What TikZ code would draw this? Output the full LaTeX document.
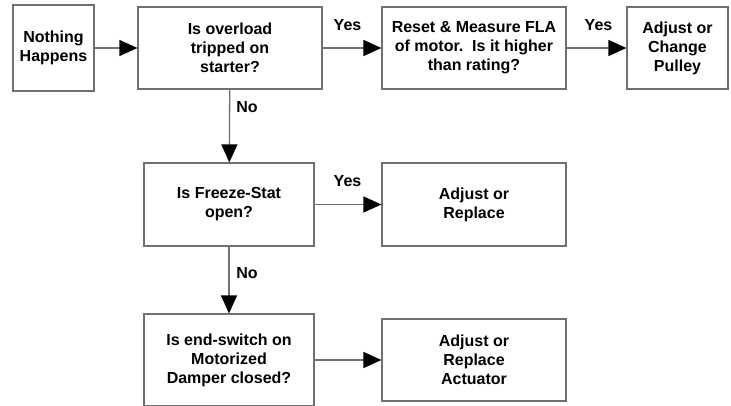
\documentclass[tikz,border=0pt]{standalone}
\usepackage{fontspec}
\setmainfont{Liberation Sans}
\usetikzlibrary{arrows.meta}
\definecolor{linegray}{HTML}{707070}
\begin{document}
\begin{tikzpicture}[x=1pt,y=-1pt,
  box/.style={draw=linegray,line width=1.2pt,fill=white,inner sep=0pt,align=center,
    font=\fontsize{16}{19}\selectfont\bfseries},
  conn/.style={draw=linegray,line width=1.3pt,-{Triangle[length=18pt,width=16pt,color=black]}},
  lbl/.style={font=\fontsize{16}{19}\selectfont\bfseries,inner sep=0pt}]
\clip (0,0) rectangle (731,405);
\fill[white] (0,0) rectangle (731,405);
\node[box,minimum width=81pt,minimum height=86pt] (nh) at (53.5,48) {Nothing\\Happens};
\node[box,minimum width=184pt,minimum height=82pt] (ov) at (230,48) {Is overload\\tripped on\\starter?};
\node[box,minimum width=184pt,minimum height=82pt] (rs) at (474,48) {Reset \& Measure FLA\\of motor.\ \ Is it higher\\than rating?};
\node[box,minimum width=101pt,minimum height=82pt] (pu) at (677.5,48) {Adjust or\\Change\\Pulley};
\node[box,minimum width=170pt,minimum height=83pt] (fs) at (229,204.5) {Is Freeze-Stat\\open?};
\node[box,minimum width=184pt,minimum height=83pt] (ar) at (474,204.5) {Adjust or\\Replace};
\node[box,minimum width=170pt,minimum height=92pt] (es) at (229,360) {Is end-switch on\\Motorized\\Damper closed?};
\node[box,minimum width=184pt,minimum height=82pt] (ac) at (474,360) {Adjust or\\Replace\\Actuator};
\draw[conn] (nh) -- (ov);
\draw[conn] (ov) -- (rs);
\draw[conn] (rs) -- (pu);
\draw[conn] (ov) -- (fs);
\draw[conn] (fs) -- (ar);
\draw[conn] (fs) -- (es);
\draw[conn] (es) -- (ac);
\node[lbl] (y1) at (347.5,25) {Yes};
\node[lbl] (y2) at (598.5,25) {Yes};
\node[lbl] (n1) at (247,107) {No};
\node[lbl] (y3) at (347.5,181) {Yes};
\node[lbl] (n2) at (247,273) {No};
\end{tikzpicture}
\end{document}
